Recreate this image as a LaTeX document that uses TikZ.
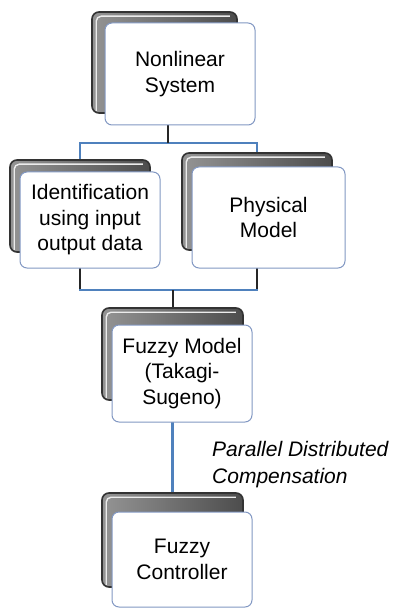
\documentclass[tikz,border=0pt]{standalone}
\usepackage{fontspec}
\setmainfont{Liberation Sans}
\begin{document}
\begin{tikzpicture}[x=1pt,y=1pt,
  whitebox/.style={draw={rgb,255:red,130;green,152;blue,195}, line width=1pt, fill=white,
    rounded corners=7pt, align=center, inner sep=0pt,
    font=\fontsize{21}{25.5}\selectfont},
  backframe/.style={draw=black!80, line width=1.6pt, rounded corners=7pt,
    left color=black!42, right color=black!70, inner sep=0pt},
  conn/.style={draw={rgb,255:red,79;green,129;blue,189}, line width=2.2pt},
  stub/.style={draw=black!85, line width=1.4pt},
  lbl/.style={font=\fontsize{21}{27}\selectfont\itshape, align=left, inner sep=0pt}]
\useasboundingbox (0,0) rectangle (394,-612);
% back frames
\node[backframe, minimum width=145, minimum height=101] (nsS) at (164.5,-62.5) {};
\node[backframe, minimum width=140, minimum height=92] (idS) at (80,-206) {};
\node[backframe, minimum width=150, minimum height=97] (phS) at (257,-201.5) {};
\node[backframe, minimum width=141, minimum height=92] (fmS) at (172.5,-354) {};
\node[backframe, minimum width=141, minimum height=94] (fcS) at (172.5,-540) {};
% inner light lines on frames
\foreach \n in {nsS,idS,phS,fmS,fcS}{
  \draw[gray!15, line width=1.4pt, rounded corners=5pt]
    ([xshift=5pt,yshift=3pt]\n.south west) -- ([xshift=5pt,yshift=-5pt]\n.north west) -- ([xshift=-8pt,yshift=-5pt]\n.north east);
}
% connectors (behind white boxes)
\coordinate (j1) at (168,-143);
\coordinate (j2) at (173,-290);
\draw[conn] (idS.north) |- (j1) -| (phS.north);
\draw[conn] (j1) -- (j1 |- nsS.south);
\draw[stub] (j1) -- (j1 |- nsS.south);
\draw[conn] (idS.south) |- (j2) -| (phS.south);
\draw[stub] (idS.south) -- ([yshift=1pt]idS.south |- j2);
\draw[stub] (phS.south) -- ([yshift=1pt]phS.south |- j2);
\draw[conn] (j2) -- (j2 |- fmS.north);
\draw[stub] (j2) -- (j2 |- fmS.north);
\draw[conn] (fmS.south) -- (fcS.north);
% white boxes
\node[whitebox, minimum width=150, minimum height=102] (ns) at (180,-74) {Nonlinear\\System};
\node[whitebox, minimum width=140, minimum height=96] (id) at (90,-220) {Identification\\using input\\output data};
\node[whitebox, minimum width=153, minimum height=101] (ph) at (268.5,-217.5) {Physical\\Model};
\node[whitebox, minimum width=140, minimum height=97] (fm) at (182,-373.5) {Fuzzy Model\\(Takagi-\\Sugeno)};
\node[whitebox, minimum width=140, minimum height=95] (fc) at (182,-559.5) {Fuzzy\\Controller};
% label
\node[lbl, anchor=base west] (pdc) at (212,-483) {Parallel Distributed\\Compensation};
\end{tikzpicture}
\end{document}
